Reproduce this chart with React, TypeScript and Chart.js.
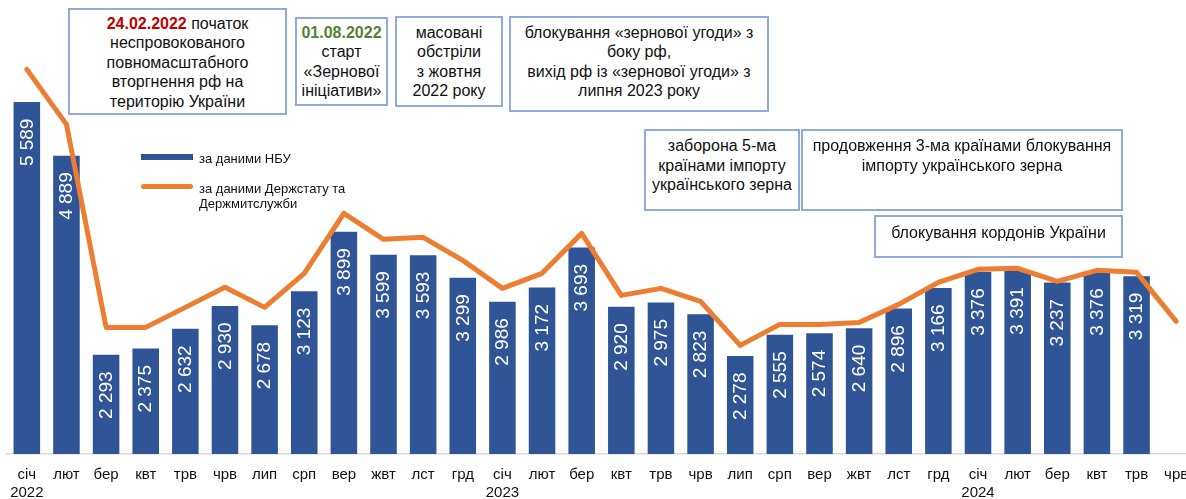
import React, { useEffect, useRef } from "react";
import { Chart, registerables } from "chart.js";

Chart.register(...registerables);

const tickLabels: (string | string[])[] = [
  ["січ", "2022"], "лют", "бер", "квт", "трв", "чрв", "лип", "срп", "вер", "жвт", "лст", "грд",
  ["січ", "2023"], "лют", "бер", "квт", "трв", "чрв", "лип", "срп", "вер", "жвт", "лст", "грд",
  ["січ", "2024"], "лют", "бер", "квт", "трв", "чрв",
];

const nbuValues: (number | null)[] = [
  5589, 4889, 2293, 2375, 2632, 2930, 2678, 3123, 3899, 3599, 3593, 3299,
  2986, 3172, 3693, 2920, 2975, 2823, 2278, 2555, 2574, 2640, 2896, 3166,
  3376, 3391, 3237, 3376, 3319, null,
];

const statValues: number[] = [
  6015, 5298, 2651, 2651, 2912, 3173, 2912, 3356, 4138, 3799, 3825, 3525,
  3160, 3356, 3877, 3068, 3160, 2990, 2416, 2690, 2690, 2716, 2951, 3238,
  3408, 3421, 3251, 3395, 3369, 2729,
];

const seriesNames = ["за даними НБУ", "за даними Держстату та Держмитслужби"];

const FONT = '"Liberation Sans", Arial, sans-serif';
const BLUE = "#2f5597";
const ORANGE = "#ed7d31";
const BOX_BORDER = "#8faadc";

const fmt = (v: number) => String(v).replace(/\B(?=(\d{3})+(?!\d))/g, " ");

const barLabelPlugin = {
  id: "barLabels",
  afterDatasetDraw(chart: any, args: any) {
    if (args.index !== 0) return;
    const ctx = chart.ctx;
    ctx.save();
    ctx.font = `19px ${FONT}`;
    ctx.fillStyle = "#ffffff";
    ctx.textAlign = "right";
    ctx.textBaseline = "middle";
    args.meta.data.forEach((el: any, i: number) => {
      const v = nbuValues[i];
      if (v == null) return;
      ctx.save();
      ctx.translate(el.x + 0.5, el.y + 16.5);
      ctx.rotate(-Math.PI / 2);
      ctx.fillText(fmt(v), 0, 0);
      ctx.restore();
    });
    ctx.restore();
  },
};

const boxBase: React.CSSProperties = {
  position: "absolute",
  boxSizing: "border-box",
  border: `2px solid ${BOX_BORDER}`,
  background: "#ffffff",
  fontFamily: FONT,
  fontSize: 16,
  lineHeight: "19.5px",
  color: "#111",
  textAlign: "center",
  whiteSpace: "nowrap",
};

export default function App() {
  const canvasRef = useRef<HTMLCanvasElement | null>(null);

  useEffect(() => {
    document.body.style.margin = "0";
    const canvas = canvasRef.current;
    if (!canvas) return;
    const chart = new Chart(canvas, {
      type: "bar",
      data: {
        labels: tickLabels as any,
        datasets: [
          {
            type: "bar",
            label: seriesNames[0],
            data: nbuValues as any,
            backgroundColor: BLUE,
            borderWidth: 0,
            barPercentage: 0.67,
            categoryPercentage: 1,
            order: 1,
          },
          {
            type: "line",
            label: seriesNames[1],
            data: statValues,
            borderColor: ORANGE,
            backgroundColor: ORANGE,
            borderWidth: 5,
            pointRadius: 0,
            tension: 0,
            borderJoinStyle: "round",
            borderCapStyle: "round",
            order: 0,
          } as any,
        ],
      },
      options: {
        responsive: false,
        animation: false,
        layout: { padding: { left: 7, right: 0, top: 0, bottom: 0 } },
        plugins: {
          legend: { display: false },
          tooltip: { enabled: false },
          title: { display: false },
        },
        scales: {
          x: {
            grid: { display: false, drawTicks: false },
            border: { display: true, color: "#d9d9d9", width: 1.5 },
            ticks: {
              autoSkip: false,
              maxRotation: 0,
              minRotation: 0,
              padding: 11.5,
              color: "#111",
              font: { family: FONT, size: 15, lineHeight: 1.2 },
            },
            afterFit(scale: any) {
              scale.paddingLeft = 0;
              scale.paddingRight = 0;
            },
          },
          y: {
            display: false,
            min: 1000,
            max: 6920,
          },
        },
      },
      plugins: [barLabelPlugin],
    });
    return () => chart.destroy();
  }, []);

  return (
    <div style={{ position: "relative", width: 1186, height: 499, overflow: "hidden", background: "#fff" }}>
      <canvas
        ref={canvasRef}
        width={1196}
        height={513}
        style={{ position: "absolute", left: 0, top: 0, width: 1196, height: 513 }}
      />

      {/* legend */}
      <div style={{ position: "absolute", left: 141, top: 154, width: 52, height: 6, background: BLUE }} />
      <div style={{ position: "absolute", left: 199, top: 151, fontFamily: FONT, fontSize: 13, lineHeight: "15px", color: "#111", whiteSpace: "nowrap" }}>
        {seriesNames[0]}
      </div>
      <div style={{ position: "absolute", left: 141, top: 183.5, width: 52, height: 5, borderRadius: 2.5, background: ORANGE }} />
      <div style={{ position: "absolute", left: 199, top: 180.5, fontFamily: FONT, fontSize: 13, lineHeight: "15px", color: "#111", whiteSpace: "nowrap" }}>
        за даними Держстату та<br />Держмитслужби
      </div>

      {/* annotations */}
      <div style={{ ...boxBase, left: 68, top: 8, width: 219, height: 107, paddingTop: 3.5 }}>
        <span style={{ color: "#c00000", fontWeight: "bold" }}>24.02.2022</span> початок<br />
        неспровокованого<br />
        повномасштабного<br />
        вторгнення рф на<br />
        територію України
      </div>
      <div style={{ ...boxBase, left: 295, top: 17, width: 93, height: 89, paddingTop: 3.5 }}>
        <span style={{ color: "#548235", fontWeight: "bold" }}>01.08.2022</span><br />
        старт<br />
        «Зернової<br />
        ініціативи»
      </div>
      <div style={{ ...boxBase, left: 395, top: 16, width: 108, height: 91, paddingTop: 4.5 }}>
        масовані<br />
        обстріли<br />
        з жовтня<br />
        2022 року
      </div>
      <div style={{ ...boxBase, left: 509, top: 16, width: 260, height: 96, paddingTop: 4.5 }}>
        блокування «зернової угоди» з<br />
        боку рф,<br />
        вихід рф із «зернової угоди» з<br />
        липня 2023 року
      </div>
      <div style={{ ...boxBase, left: 644, top: 129, width: 156, height: 82, paddingTop: 5 }}>
        заборона 5-ма<br />
        країнами імпорту<br />
        українського зерна
      </div>
      <div style={{ ...boxBase, left: 801, top: 129, width: 322, height: 82, paddingTop: 5 }}>
        продовження 3-ма країнами блокування<br />
        імпорту українського зерна
      </div>
      <div style={{ ...boxBase, left: 874, top: 215, width: 249, height: 43, paddingTop: 6 }}>
        блокування кордонів України
      </div>
    </div>
  );
}
